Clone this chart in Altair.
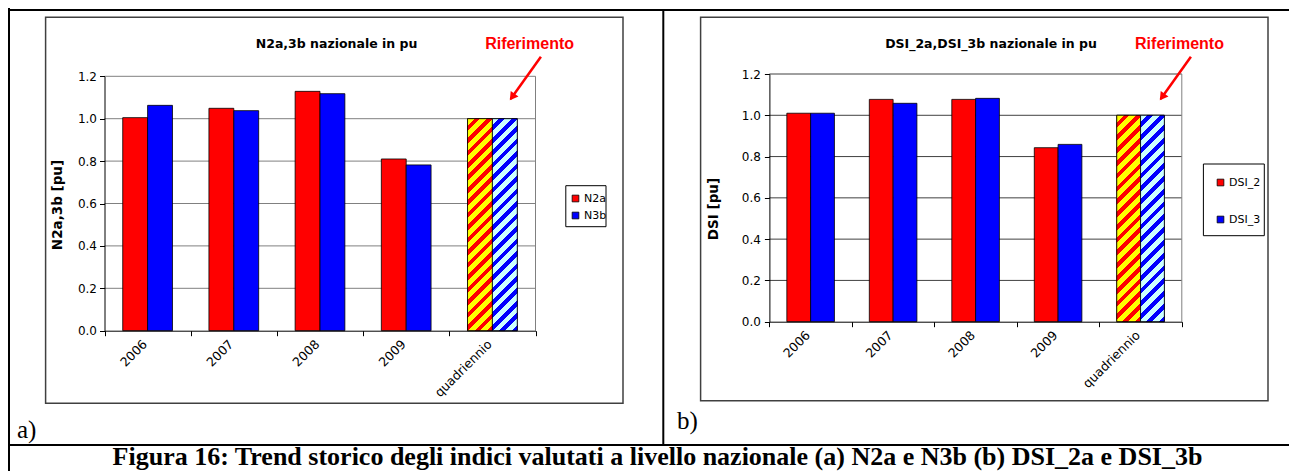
import altair as alt
import pandas as pd

# ---------------- data ----------------
categories = ["2006", "2007", "2008", "2009", "quadriennio"]
ref_category = "quadriennio"

series_a = ["N2a", "N3b"]
n2a = [1.005, 1.049, 1.129, 0.810, 1.000]
n3b = [1.063, 1.038, 1.118, 0.782, 1.000]

series_b = ["DSI_2", "DSI_3"]
dsi_2 = [1.010, 1.077, 1.077, 0.843, 1.000]
dsi_3 = [1.010, 1.058, 1.082, 0.859, 1.000]

y_ticks = [0.0, 0.2, 0.4, 0.6, 0.8, 1.0, 1.2]

title_a = "N2a,3b nazionale in pu"
title_b = "DSI_2a,DSI_3b nazionale in pu"
ytitle_a = "N2a,3b  [pu]"
ytitle_b = "DSI [pu]"
ref_label = "Riferimento"
label_a = "a)"
label_b = "b)"
caption = ("Figura 16: Trend storico degli indici valutati a livello nazionale "
           "(a) N2a e N3b (b) DSI_2a e DSI_3b")

# ---------------- layout ----------------
W, H = 1281, 463
M = 8  # page margin: page coords -> chart coords

solid_colors = ["#FF0000", "#0000FF"]
stripe_bg = ["#FFFF00", "#CCFFFF"]
stripe_fg = ["#FF0000", "#0000FF"]
PAD_OUT = 0.733   # xOffset outer padding (bar pair = ~58% of a category step)

one = pd.DataFrame({"k": [0]})


def long_df(names, s1, s2):
    rows = []
    for c, v in zip(categories, s1):
        rows.append({"cat": c, "series": names[0], "value": v})
    for c, v in zip(categories, s2):
        rows.append({"cat": c, "series": names[1], "value": v})
    return pd.DataFrame(rows)


def stripes(bg, fg, w, h, periods, frac=0.45):
    k = (w + h) / (w * w + h * h)
    stops = []
    for i in range(periods):
        a = i / periods
        b = (i + 1 - frac) / periods
        c = (i + 1) / periods
        stops += [
            {"color": bg, "offset": a},
            {"color": bg, "offset": b},
            {"color": fg, "offset": b},
            {"color": fg, "offset": c},
        ]
    return {"gradient": "linear", "x1": 0, "y1": 0, "x2": k * w, "y2": k * h,
            "stops": stops}


def hline(xa, xb, y, color="black", w=2.0):
    return alt.Chart(one).mark_rule(color=color, strokeWidth=w).encode(
        x=alt.value(xa - M), x2=alt.value(xb - M), y=alt.value(y - M))


def vline(x, ya, yb, color="black", w=2.0):
    return alt.Chart(one).mark_rule(color=color, strokeWidth=w).encode(
        x=alt.value(x - M), y=alt.value(ya - M), y2=alt.value(yb - M))


def box(xa, ya, xb, yb, color="#404040", w=1.5):
    return alt.Chart(one).mark_rect(fillOpacity=0, stroke=color, strokeWidth=w).encode(
        x=alt.value(xa - M), x2=alt.value(xb - M), y=alt.value(ya - M), y2=alt.value(yb - M))


def text(t, x, y, font="DejaVu Sans", size=12, weight="normal", color="black",
         align="center", baseline="middle", angle=0):
    return alt.Chart(one).mark_text(
        text=t, font=font, fontSize=size, fontWeight=weight, color=color,
        align=align, baseline=baseline, angle=angle).encode(
        x=alt.value(x - M), y=alt.value(y - M))


def arrow(xa, ya, xb, yb):
    line = alt.Chart(one).mark_rule(color="#FF0000", strokeWidth=2.5).encode(
        x=alt.value(xa - M), y=alt.value(ya - M),
        x2=alt.value(xb - M), y2=alt.value(yb - M))
    head = alt.Chart(one).mark_point(
        shape="triangle-down", filled=True, color="#FF0000", size=90,
        angle=35.5, opacity=1).encode(
        x=alt.value(xb - M + 1.5), y=alt.value(yb - M - 2))
    return [line, head]


def panel(df, names, px0, px1, py0, py1, grid_color, legend_xy, legend_rowpad,
          periods, ylabel_pad):
    x0, x1 = px0 - M, px1 - M
    y0, y1 = py0 - M, py1 - M
    step = (x1 - x0) / len(categories)
    bar_w = step / (2 + 2 * PAD_OUT)
    bar_h = (y0 - y1) / 1.2

    xs = alt.Scale(domain=categories, range=[x0, x1], paddingInner=0, paddingOuter=0)
    xo = alt.Scale(domain=names, paddingInner=0, paddingOuter=PAD_OUT)
    ys = alt.Scale(domain=[0, 1.2], range=[y0, y1], nice=False, zero=False)

    yaxis = alt.Axis(orient="left", offset=-x0, values=y_ticks, format=".1f",
                     grid=False, domain=True, domainColor="black", domainWidth=1,
                     ticks=True, tickSize=5, tickColor="black",
                     labelFont="DejaVu Sans", labelFontSize=12, labelColor="black",
                     labelPadding=ylabel_pad, title=None, zindex=1)
    xaxis = alt.Axis(orient="bottom", offset=y0 - H, tickBand="extent",
                     labelAngle=-45, labelAlign="right", labelBaseline="middle",
                     labelPadding=6, labelOffset=-3, tickSize=5,
                     domainColor="black", tickColor="black", domainWidth=1,
                     labelFont="DejaVu Sans", labelFontSize=12.5, labelColor="black",
                     title=None, zindex=1)

    grid_df = pd.DataFrame({"value": y_ticks[1:]})
    grid = alt.Chart(grid_df).mark_rule(color=grid_color, strokeWidth=1).encode(
        y=alt.Y("value:Q", scale=ys, axis=yaxis),
        x=alt.value(x0), x2=alt.value(x1))
    border = alt.Chart(one).mark_rule(color="#808080", strokeWidth=1).encode(
        x=alt.value(x1), y=alt.value(y0), y2=alt.value(y1))

    xenc = alt.X("cat:N", scale=xs, axis=xaxis)
    xoenc = alt.XOffset("series:N", scale=xo)
    yenc = alt.Y("value:Q", scale=ys, axis=yaxis, stack=None)

    lx, ly = legend_xy
    bars = alt.Chart(df).mark_bar(stroke="black", strokeWidth=0.8).encode(
        x=xenc, xOffset=xoenc, y=yenc,
        color=alt.Color("series:N",
                        scale=alt.Scale(domain=names, range=solid_colors),
                        legend=alt.Legend(orient="none", legendX=lx - M, legendY=ly - M,
                                          title=None, symbolType="square", symbolSize=45,
                                          symbolStrokeColor="black", symbolStrokeWidth=0.8,
                                          labelFont="DejaVu Sans", labelFontSize=11,
                                          labelColor="black", labelOffset=3,
                                          rowPadding=legend_rowpad, padding=0,
                                          direction="vertical")))

    ref_df = df[df["cat"] == ref_category]
    layers = [grid, border, bars]
    for s, bg, fg in zip(names, stripe_bg, stripe_fg):
        layers.append(
            alt.Chart(ref_df[ref_df["series"] == s]).mark_bar(
                fill=stripes(bg, fg, bar_w, bar_h, periods),
                stroke="black", strokeWidth=0.8).encode(
                x=xenc, xOffset=xoenc, y=yenc))
    return alt.layer(*layers)


df_a = long_df(series_a, n2a, n3b)
df_b = long_df(series_b, dsi_2, dsi_3)

panel_a = panel(df_a, series_a, 104.5, 535.5, 330.7, 76.3, "#808080",
                (570, 193), 5, 19, 3)
panel_b = panel(df_b, series_b, 769.4, 1181.8, 321.7, 74.0, "#404040",
                (1215, 177), 25, 18, 4)

deco_back = [
    box(45.6, 17.3, 623.0, 403.3),
    box(700.6, 17.3, 1268.0, 400.7),
    box(565.8, 185.7, 606.0, 226.7, color="black", w=1),
    box(1203.4, 164.0, 1264.3, 235.7, color="black", w=1),
    hline(0, 1305, 10),
    vline(9, 0, 480),
    vline(663.3, 10, 445),
    hline(0, 1305, 445),
]

deco_front = [
    text(title_a, 336.6, 44.3, weight="bold", size=12.5),
    text(title_b, 991.0, 44.3, weight="bold", size=12.5),
    text(ref_label, 529.6, 44.0, font="Liberation Sans", weight="bold", size=16,
         color="#FF0000"),
    text(ref_label, 1179.5, 44.0, font="Liberation Sans", weight="bold", size=16,
         color="#FF0000"),
    text(ytitle_a, 58.0, 205.0, weight="bold", size=13.5, angle=270),
    text(ytitle_b, 714.0, 209.0, weight="bold", size=13.5, angle=270),
    text(label_a, 17.0, 438.0, font="Liberation Serif", size=25, align="left",
         baseline="alphabetic"),
    text(label_b, 677.0, 429.0, font="Liberation Serif", size=25, align="left",
         baseline="alphabetic"),
    text(caption, 657.5, 464.5, font="Liberation Serif", weight="bold", size=26,
         baseline="alphabetic"),
]
deco_front += arrow(540.9, 56.7, 510.7, 99.0)
deco_front += arrow(1190.9, 56.7, 1160.7, 99.0)

chart = alt.layer(*deco_back, panel_a, panel_b, *deco_front).resolve_scale(
    x="independent", y="independent", xOffset="independent", color="independent"
).resolve_axis(x="independent", y="independent").resolve_legend(
    color="independent"
).properties(
    width=W, height=H, autosize=alt.AutoSizeParams(type="none"), padding=0,
    background="white"
).configure_view(stroke=None)

chart.save("out.html", embed_options={"renderer": "svg", "actions": False})
